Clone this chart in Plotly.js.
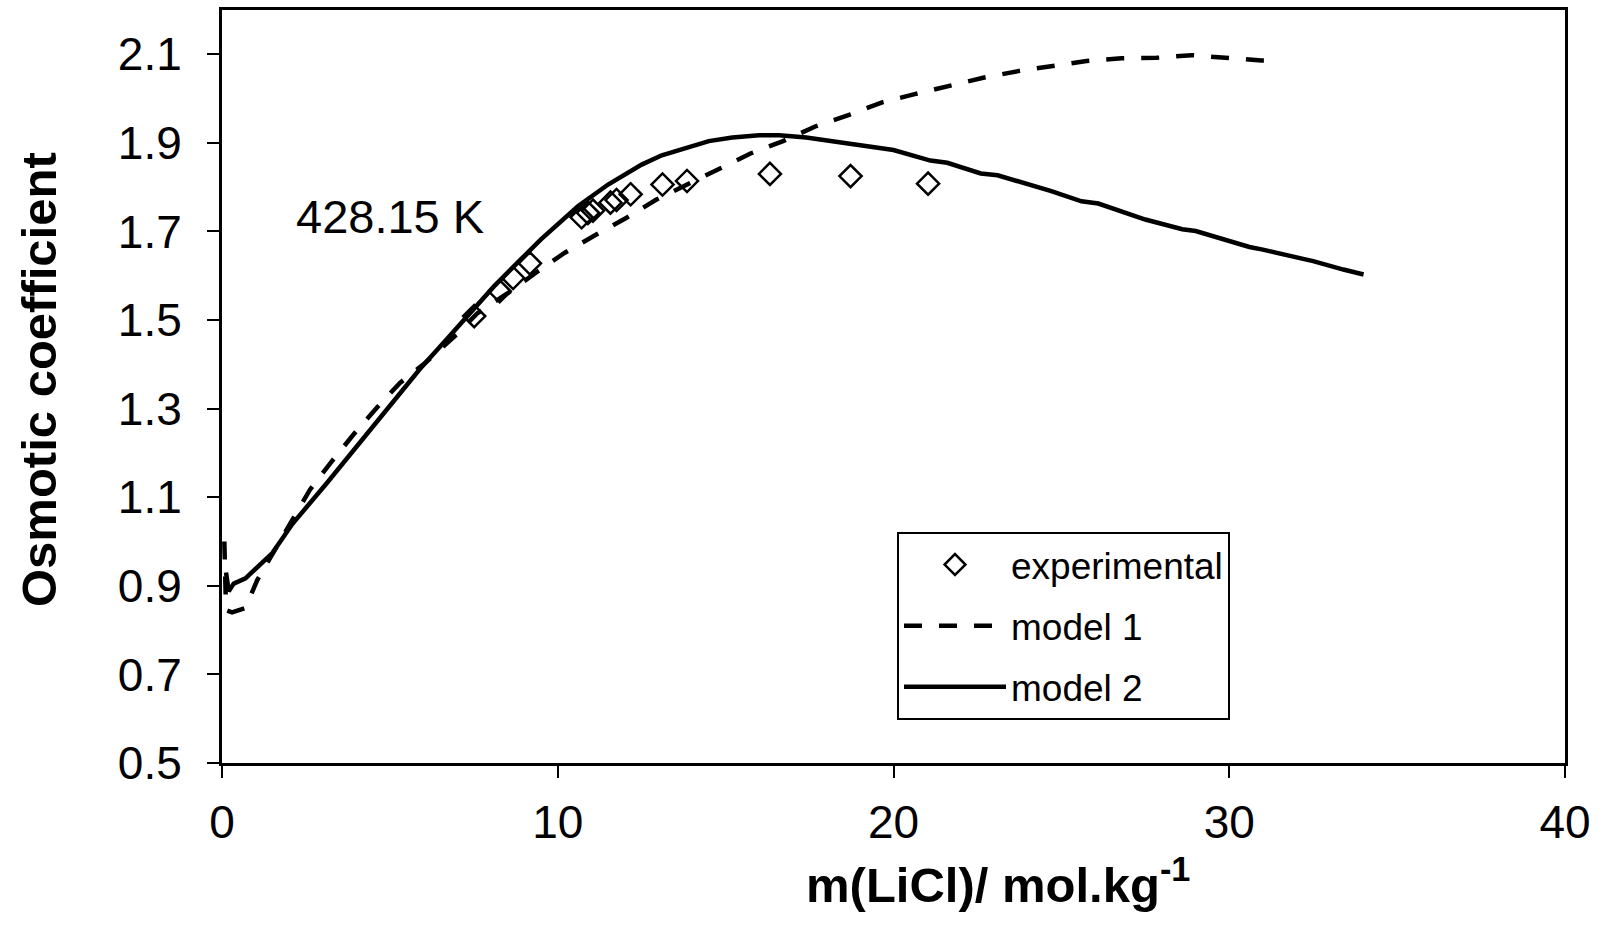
<!DOCTYPE html>
<html>
<head>
<meta charset="utf-8">
<script src="https://cdn.plot.ly/plotly-3.0.1.min.js"></script>
<style>html,body{margin:0;padding:0;background:#fff;}#chart{width:1606px;height:947px;}</style>
</head>
<body>
<div id="chart"></div>
<script>
// Experimental data
var expM = [7.51, 8.27, 8.67, 9.17, 10.71, 10.90, 11.05, 11.57, 11.75, 12.17, 13.12, 13.85, 16.32, 18.72, 21.03];
var expPhi = [1.509, 1.565, 1.595, 1.628, 1.732, 1.742, 1.747, 1.765, 1.771, 1.784, 1.806, 1.814, 1.830, 1.825, 1.808];

// Model 1 (dashed)
var m1M = [0.07, 0.12, 0.3, 0.7, 1.05, 1.57, 2.08, 2.62, 3.27, 3.91, 4.61, 5.30, 6.05, 6.98, 7.6, 8.5, 9.37, 10.21, 11.15, 12.05, 12.94, 13.88, 14.8, 15.74, 16.71, 17.7, 18.7, 19.64, 20.63, 21.68, 22.67, 23.71, 24.75, 25.75, 26.79, 27.83, 28.88, 29.92, 30.96, 31.24];
var m1Phi = [1.0, 0.845, 0.84, 0.85, 0.913, 0.98, 1.049, 1.117, 1.181, 1.241, 1.302, 1.358, 1.403, 1.467, 1.515, 1.56, 1.608, 1.652, 1.693, 1.731, 1.772, 1.806, 1.842, 1.876, 1.904, 1.938, 1.964, 1.991, 2.01, 2.03, 2.047, 2.062, 2.075, 2.085, 2.091, 2.092, 2.098, 2.091, 2.086, 2.086];

// Model 2 (solid)
var m2M = [0.12, 0.2, 0.35, 0.7, 1.5, 2.1, 3.1, 4.1, 5.0, 5.9, 6.7, 7.3, 8.1, 8.9, 9.5, 10.6, 11.5, 12.5, 13.1, 14.5, 15.2, 16.0, 16.6, 17.4, 18.6, 20.0, 21.1, 21.6, 22.6, 23.1, 24.7, 25.6, 26.1, 27.5, 28.6, 29.0, 30.6, 31.0, 32.2, 32.5, 33.4, 34.0];
var m2Phi = [0.93, 0.888, 0.905, 0.917, 0.974, 1.04, 1.13, 1.222, 1.305, 1.39, 1.457, 1.509, 1.576, 1.637, 1.682, 1.757, 1.806, 1.851, 1.872, 1.904, 1.912, 1.917, 1.917, 1.912, 1.899, 1.884, 1.86, 1.855, 1.831, 1.827, 1.791, 1.768, 1.763, 1.727, 1.705, 1.701, 1.665, 1.659, 1.638, 1.633, 1.614, 1.603];

var yTicks = [0.5, 0.7, 0.9, 1.1, 1.3, 1.5, 1.7, 1.9, 2.1];
var xTicks = [0, 10, 20, 30, 40];
var seriesNames = ['experimental', 'model 1', 'model 2'];
var tempLabel = '428.15 K';
var xTitle = '<b>m(LiCl)/ mol.kg<sup>-1</sup></b>';
var yTitle = '<b>Osmotic coefficient</b>';

var FONT = 'Liberation Sans, Arial, sans-serif';

var traces = [
  {x: m1M, y: m1Phi, mode: 'lines', name: seriesNames[1], legendrank: 2, legendgroup: 'b',
   line: {color: '#000', width: 4.5, dash: '18px,17px'}},
  {x: m2M, y: m2Phi, mode: 'lines', name: seriesNames[2], legendrank: 3, legendgroup: 'c',
   line: {color: '#000', width: 4.5}},
  {x: expM, y: expPhi, mode: 'markers', name: seriesNames[0], legendrank: 1, legendgroup: 'a',
   marker: {symbol: 'diamond-open', size: 17, color: '#000', line: {width: 2.5, color: '#000'}}}
];

var layout = {
  width: 1606, height: 947,
  paper_bgcolor: '#fff', plot_bgcolor: '#fff',
  margin: {l: 222, r: 41, t: 10, b: 184},
  font: {family: FONT, color: '#000'},
  showlegend: true,
  legend: {
    x: 0.5026, y: 0.3068, xanchor: 'left', yanchor: 'top',
    bordercolor: '#000', borderwidth: 2, bgcolor: '#fff',
    font: {family: FONT, size: 37, color: '#000'},
    itemwidth: 102, tracegroupgap: 10, traceorder: 'grouped'
  },
  xaxis: {
    range: [0, 40], tickvals: xTicks, ticktext: xTicks.map(String),
    showgrid: false, zeroline: false,
    showline: true, linecolor: '#000', linewidth: 3, mirror: true,
    ticks: 'outside', ticklen: 12, tickwidth: 2, tickcolor: '#000',
    tickfont: {family: FONT, size: 46, color: '#000'},
    ticklabelstandoff: 5
  },
  yaxis: {
    range: [0.5, 2.2], tickvals: yTicks, ticktext: yTicks.map(function(v){return v.toFixed(1);}),
    showgrid: false, zeroline: false,
    showline: true, linecolor: '#000', linewidth: 3, mirror: true,
    ticks: 'outside', ticklen: 12, tickwidth: 2, tickcolor: '#000',
    tickfont: {family: FONT, size: 46, color: '#000'},
    ticklabelstandoff: 16
  },
  annotations: [
    {x: 5.0, y: 1.734, xref: 'x', yref: 'y', text: tempLabel, showarrow: false,
     font: {family: FONT, size: 47, color: '#000'}, xanchor: 'center', yanchor: 'middle'},
    {x: 0.578, y: 881, xref: 'paper', yref: 'paper', text: xTitle, showarrow: false,
     font: {family: FONT, size: 49, color: '#000'}, xanchor: 'center', yanchor: 'middle'},
    {x: -0.136, y: 0.5, xref: 'paper', yref: 'paper', text: yTitle, showarrow: false, textangle: -90,
     font: {family: FONT, size: 49, color: '#000'}, xanchor: 'center', yanchor: 'middle'}
  ]
};
// x title vertical position in paper units (center at ~881px from top)
layout.annotations[1].y = (763 - 881) / 753;
// y title center ~ (39px, 380px)
layout.annotations[2].x = (39 - 222) / 1343;
layout.annotations[2].y = (763 - 380) / 753;

Plotly.newPlot('chart', traces, layout, {displayModeBar: false, staticPlot: true});
</script>
</body>
</html>
